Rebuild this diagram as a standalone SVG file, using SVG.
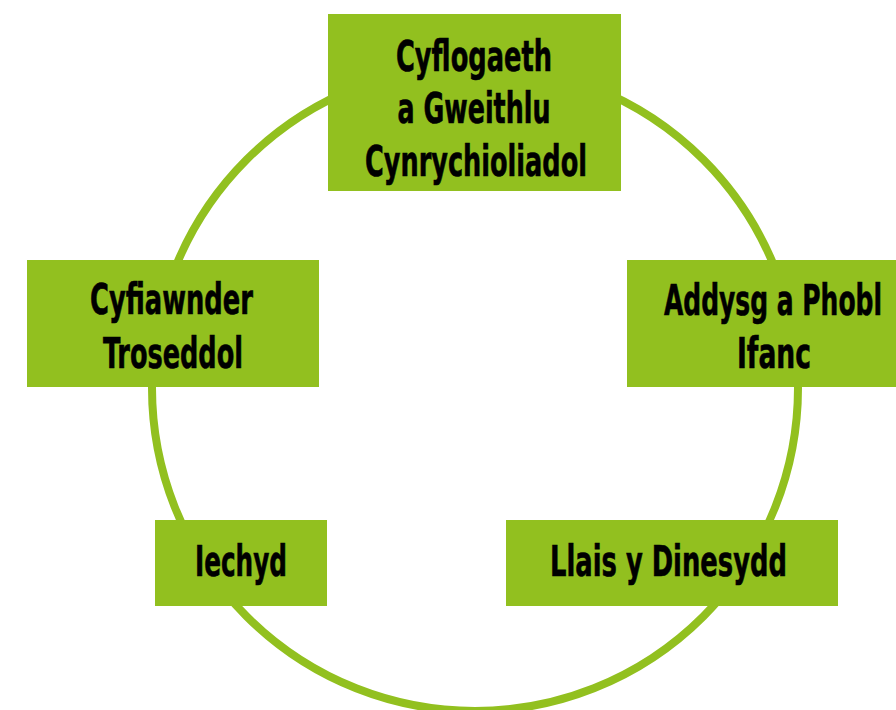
<svg xmlns="http://www.w3.org/2000/svg" width="896" height="710" viewBox="0 0 896 710">
<style>
.box{fill:#92C01F}
.lbl{font-family:"Liberation Sans Narrow","DejaVu Sans Condensed","Liberation Sans",sans-serif;font-weight:bold;font-size:42px;fill:#000;text-anchor:middle;stroke:#000;stroke-width:0.6}
</style>
<rect width="896" height="710" fill="#fff"/>
<g id="connectors">
<circle cx="475" cy="388" r="323" fill="none" stroke="#92C01F" stroke-width="8"/>
</g>
<g id="node-cyflogaeth">
<rect class="box" x="328" y="14" width="293" height="177"/>
<text class="lbl" x="474" y="71" textLength="156" lengthAdjust="spacingAndGlyphs">Cyflogaeth</text>
<text class="lbl" x="474" y="123" textLength="153" lengthAdjust="spacingAndGlyphs">a Gweithlu</text>
<text class="lbl" x="476" y="176" textLength="222" lengthAdjust="spacingAndGlyphs">Cynrychioliadol</text>
</g>
<g id="node-cyfiawnder">
<rect class="box" x="27" y="260" width="292" height="127"/>
<text class="lbl" x="171.5" y="314" textLength="163" lengthAdjust="spacingAndGlyphs">Cyfiawnder</text>
<text class="lbl" x="173" y="368" textLength="140" lengthAdjust="spacingAndGlyphs">Troseddol</text>
</g>
<g id="node-addysg">
<rect class="box" x="627" y="260" width="292" height="127"/>
<text class="lbl" x="773" y="315" textLength="218" lengthAdjust="spacingAndGlyphs">Addysg a Phobl</text>
<text class="lbl" x="774" y="368" textLength="74" lengthAdjust="spacingAndGlyphs">Ifanc</text>
</g>
<g id="node-iechyd">
<rect class="box" x="155" y="520" width="172" height="86"/>
<text class="lbl" x="241" y="576" textLength="92" lengthAdjust="spacingAndGlyphs">Iechyd</text>
</g>
<g id="node-llais">
<rect class="box" x="506" y="520" width="332" height="86"/>
<text class="lbl" x="668.5" y="576" textLength="237" lengthAdjust="spacingAndGlyphs">Llais y Dinesydd</text>
</g>
</svg>
